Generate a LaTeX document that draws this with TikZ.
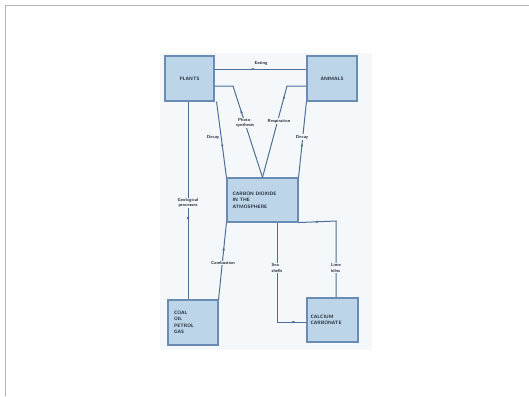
\documentclass[tikz,border=0pt]{standalone}
\usepackage{tikz}
\usetikzlibrary{arrows.meta}
\usetikzlibrary{decorations.markings, positioning}

\definecolor{boxfill}{HTML}{BDD5E8}
\definecolor{boxline}{HTML}{6A8CB4}
\definecolor{flowline}{HTML}{4F6F98}
\definecolor{inktext}{HTML}{1E2736}
\definecolor{paper}{HTML}{F5F8FA}
\definecolor{frame}{HTML}{B4B4B4}

\tikzset{
  box/.style={draw=boxline, fill=boxfill, line width=1.1pt, inner sep=1pt,
    font=\fontsize{4.8}{6.5}\selectfont\sffamily\bfseries, text=inktext},
  flow/.style={draw=flowline, line width=1pt},
  with arrow/.style={postaction={decorate}, decoration={markings,
    mark=at position #1 with {\arrow{Latex[length=3.2pt,width=2.8pt]}}}},
  lbl/.style={font=\fontsize{4.4}{5.2}\selectfont\sffamily\bfseries, text=inktext,
    fill=paper, inner sep=0.6pt, align=center},
}

\begin{document}
\begin{tikzpicture}[x=1pt, y=-1pt]
        \useasboundingbox (0,0) rectangle (529,396);
        \fill[white] (0,0) rectangle (529,396);
        \draw[frame, line width=0.8pt] (5,396) -- (5,5) -- (529,5);
        \fill[paper] (160,53) rectangle (372,350);

        % boxes
        \node[box, minimum width=49pt, minimum height=45pt] (plants) at (189.5,78.5) {PLANTS};
        \node[box, minimum width=50pt, minimum height=45pt] (animals) at (332,78.5) {ANIMALS};
        \node[box, minimum width=71pt, minimum height=44pt, text width=60pt, align=left]
            (co2) at (262.5,200) {CARBON DIOXIDE\\IN THE\\ATMOSPHERE};
        \node[box, minimum width=50pt, minimum height=45pt, text width=38pt, align=left]
            (fuel) at (193,322.5) {COAL\\OIL\\PETROL\\GAS};
        \node[box, minimum width=51pt, minimum height=44pt, text width=44pt, align=left]
            (chalk) at (332.5,320) {CALCIUM\\CARBONATE};

        % bends
        \coordinate (ph) at (233,86);
        \coordinate (rs) at (287,86);
        \coordinate (sea) at (277,322);
        \coordinate (kiln) at (336,221);

        % connectors
        \draw[flow, with arrow=0.44] (plants.east |- 0,69) -- (animals.west |- 0,69);
        \draw[flow, with arrow=71pt] (co2.north) -- (ph) -- (plants.east |- ph);
        \draw[flow, with arrow=34pt] (animals.west |- rs) -- (rs) -- (co2.north);
        \draw[flow, with arrow=0.61] (plants.south east) ++(2,0) -- (co2.north west);
        \draw[flow, with arrow=0.61] (animals.south west) -- (co2.north east);
        \draw[flow, with arrow=0.6] (plants.south -| 188,0) -- (fuel.north -| 188,0);
        \draw[flow, with arrow=0.68] (fuel.north east) -- (co2.south west);
        \draw[flow, with arrow=118pt] (co2.south -| sea) -- (sea) -- (chalk.west |- sea);
        \draw[flow, with arrow=98pt] (chalk.north -| kiln) -- (kiln) -- (co2.south east);

        % labels
        \node[lbl, fill=none] (eat) at (261,63) {Eating};
        \node[lbl] (phl) at (245,123) {Photo-\\synthesis};
        \node[lbl] (rsl) at (279,121) {Respiration};
        \node[lbl] (dl) at (213,137) {Decay};
        \node[lbl] (dr) at (302,137) {Decay};
        \node[lbl] (geo) at (188,203) {Geological\\processes};
        \node[lbl] (comb) at (223,263) {Combustion};
        \node[lbl, align=left] (shl) at (277,268) {Sea\\shells};
        \node[lbl, align=left] (kl) at (336,268) {Lime\\kilns};
\end{tikzpicture}
\end{document}
